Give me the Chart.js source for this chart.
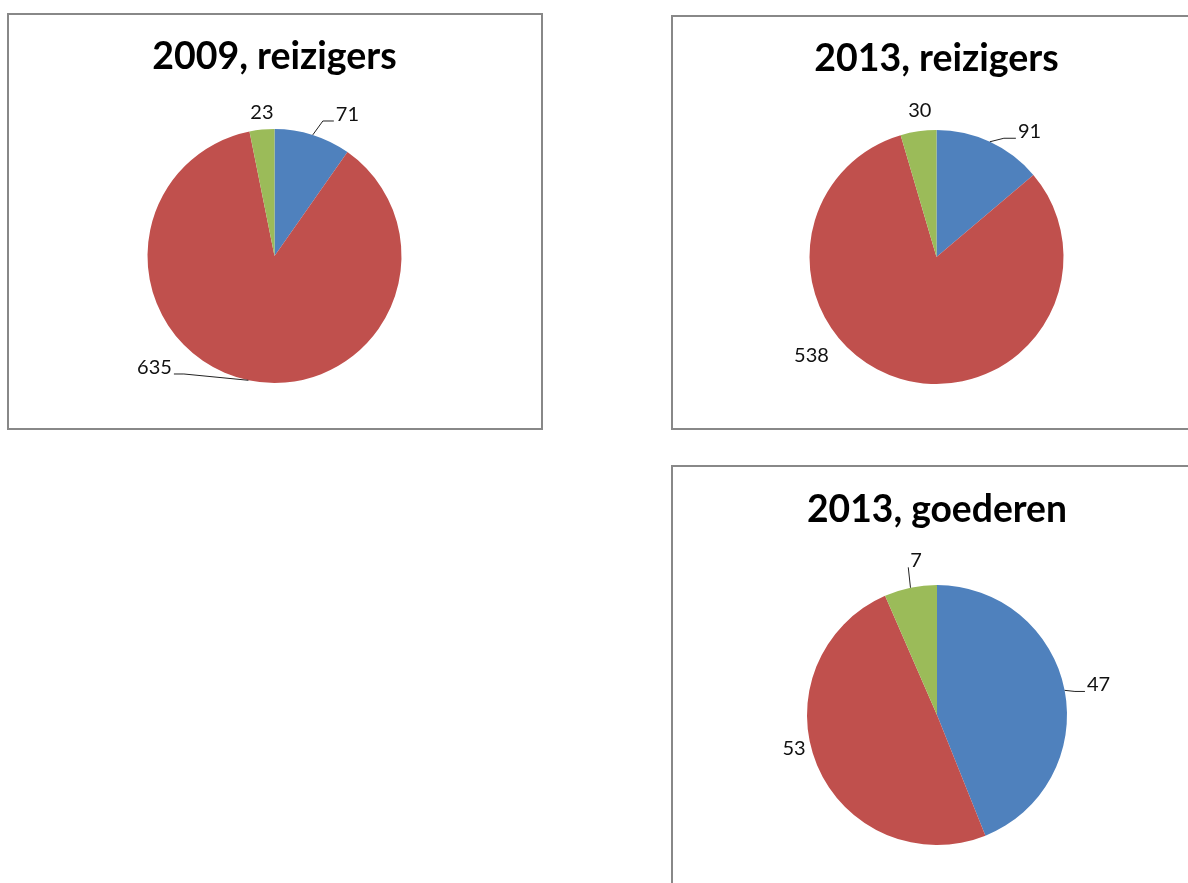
<!DOCTYPE html>
<html lang="nl">
<head>
<meta charset="utf-8">
<title>Reizigers en goederen</title>
<script src="https://cdn.jsdelivr.net/npm/chart.js@4/dist/chart.umd.min.js"></script>
<style>
  body { margin: 0; width: 1188px; height: 883px; overflow: hidden; background: #fff; position: relative; }
  .kader { position: absolute; border: 2px solid #888; background: #fff; }
  .kader canvas { display: block; }
  #kader1 { left: 7px; top: 13px; width: 532px; height: 413px; }
  #kader2 { left: 671px; top: 15px; width: 532px; height: 411px; }
  #kader3 { left: 671px; top: 465px; width: 532px; height: 436px; }
</style>
</head>
<body>
<div class="kader" id="kader1"><canvas id="grafiek-2009-reizigers" width="532" height="413"></canvas></div>
<div class="kader" id="kader2"><canvas id="grafiek-2013-reizigers" width="532" height="411"></canvas></div>
<div class="kader" id="kader3"><canvas id="grafiek-2013-goederen" width="532" height="436"></canvas></div>
<script>
const categorieen = ['Categorie 1', 'Categorie 2', 'Categorie 3'];
const reizigers2009 = [71, 635, 23];
const reizigers2013 = [91, 538, 30];
const goederen2013 = [47, 53, 7];
const titels = ['2009, reizigers', '2013, reizigers', '2013, goederen'];
const kleuren = ['#4F81BD', '#C0504D', '#9BBB59'];

// labels buiten de taart, met verbindingslijn waar Excel die ook tekent
const waardeLabels = {
  id: 'waardeLabels',
  afterDatasetsDraw(chart, args, opts) {
    const ctx = chart.ctx;
    const meta = chart.getDatasetMeta(0);
    const waarden = chart.data.datasets[0].data;
    ctx.save();
    ctx.font = '20px Lato';
    ctx.fillStyle = '#111';
    ctx.strokeStyle = '#222';
    ctx.lineWidth = 1;
    ctx.textAlign = 'center';
    ctx.textBaseline = 'alphabetic';
    meta.data.forEach((arc, i) => {
      const p = arc.getProps(['x', 'y', 'startAngle', 'endAngle', 'outerRadius'], true);
      const mid = (p.startAngle + p.endAngle) / 2;
      const ex = p.x + Math.cos(mid) * p.outerRadius;
      const ey = p.y + Math.sin(mid) * p.outerRadius;
      const pos = opts.posities[i];
      const lx = ex + pos.dx;
      const ly = ey + pos.dy;
      const tekst = String(waarden[i]);
      ctx.fillText(tekst, lx, ly + 7);
      if (pos.lijn) {
        const w = ctx.measureText(tekst).width;
        let ax, bx;
        if (pos.lijn === 'links') {
          ax = lx - w / 2 - 2;
          bx = ax - pos.elbow;
        } else {
          ax = lx + w / 2 + 2;
          bx = ax + pos.elbow;
        }
        const ay = ly + 7;
        ctx.beginPath();
        ctx.moveTo(ex, ey);
        ctx.lineTo(bx, ay);
        ctx.lineTo(ax, ay);
        ctx.stroke();
      }
    });
    ctx.restore();
  }
};

function maakGrafiek(id, titel, waarden, padding, titelPadding, posities) {
  return new Chart(document.getElementById(id).getContext('2d'), {
    type: 'pie',
    data: {
      labels: categorieen,
      datasets: [{
        data: waarden,
        backgroundColor: kleuren,
        borderWidth: 0
      }]
    },
    options: {
      responsive: false,
      animation: false,
      layout: { padding: padding },
      plugins: {
        legend: { display: false },
        tooltip: { enabled: false },
        title: {
          display: true,
          text: titel,
          color: '#000',
          font: { family: 'Lato', weight: 'bold', size: 37.5, lineHeight: 1.2 },
          padding: titelPadding
        },
        waardeLabels: { posities: posities }
      }
    },
    plugins: [waardeLabels]
  });
}

window.onload = function () {
  maakGrafiek('grafiek-2009-reizigers', titels[0], reizigers2009,
    { left: 138.5, right: 139.5, top: 0, bottom: 45 },
    { top: 19.5, bottom: 49.5 },
    [
      { dx: 34.7, dy: -20.9, lijn: 'links', elbow: 11 },
      { dx: -93.9, dy: -13.3, lijn: 'rechts', elbow: 10 },
      { dx: 0, dy: -17.6 }
    ]);

  maakGrafiek('grafiek-2013-reizigers', titels[1], reizigers2013,
    { left: 136.5, right: 141.5, top: 0, bottom: 44 },
    { top: 19.5, bottom: 48.5 },
    [
      { dx: 39.6, dy: -10.5, lijn: 'links', elbow: 12 },
      { dx: -88.6, dy: -23.2 },
      { dx: 1.4, dy: -20.9 }
    ]);

  maakGrafiek('grafiek-2013-goederen', titels[2], goederen2013,
    { left: 134, right: 138, top: 0, bottom: 58 },
    { top: 20.5, bottom: 52.5 },
    [
      { dx: 33.9, dy: -5.9, lijn: 'links', elbow: 10 },
      { dx: -23, dy: -17 },
      { dx: 5.6, dy: -27.4, lijn: 'links', elbow: 0 }
    ]);
};
</script>
</body>
</html>
